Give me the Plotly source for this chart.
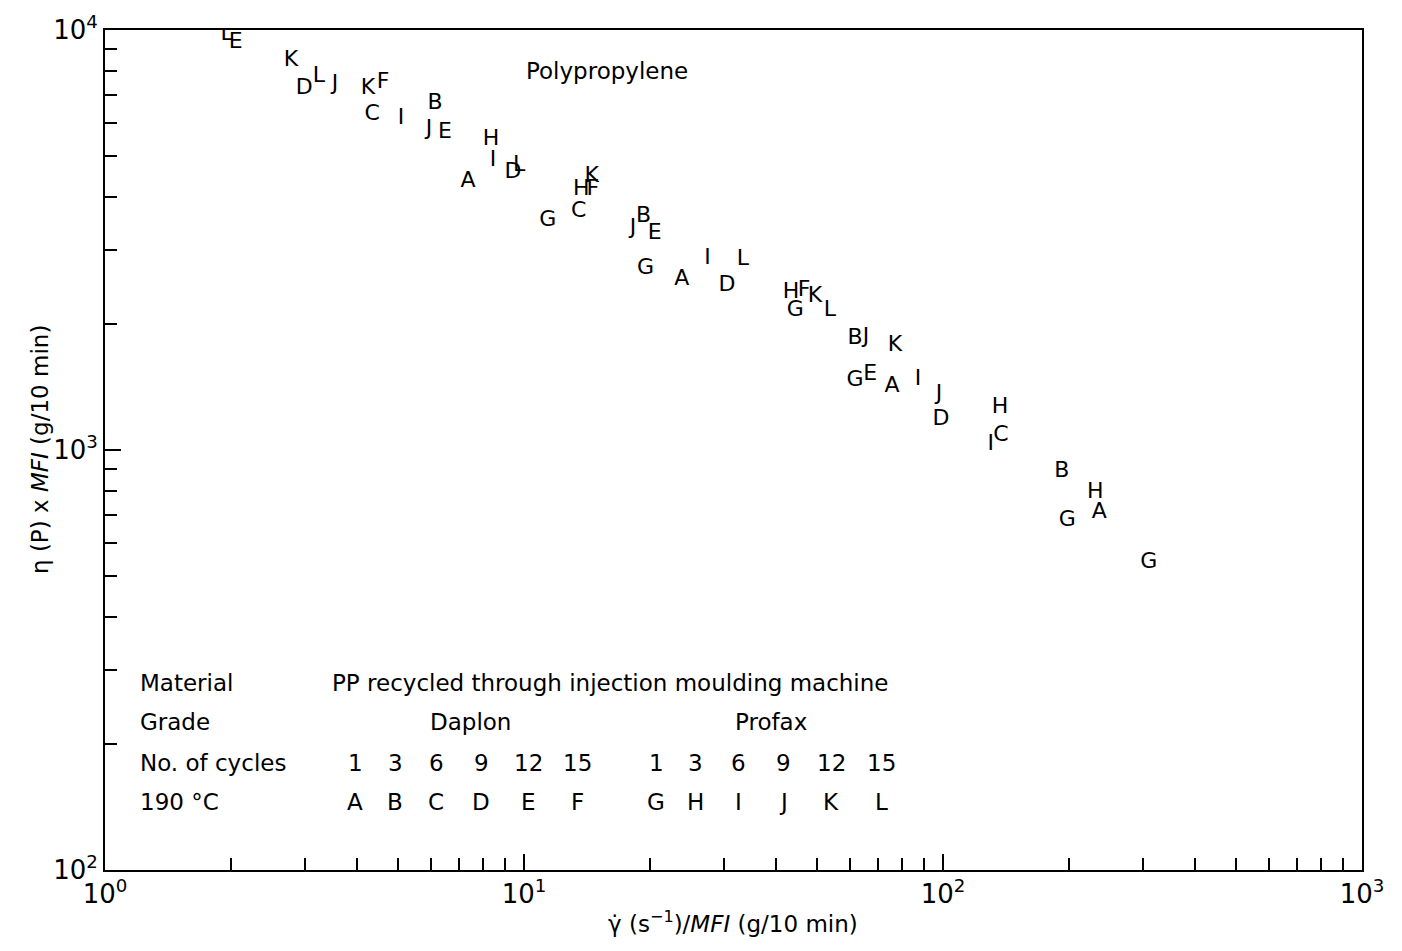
import plotly.graph_objects as go

# ---- data (x = shear rate / MFI, y = viscosity x MFI) ----
a_x = [7.35, 23.8, 75.6, 236]
a_y = [4370, 2550, 1420, 708]
b_x = [6.13, 19.3, 61.7, 192]
b_y = [6700, 3590, 1840, 891]
c_x = [4.34, 13.5, 137.5]
c_y = [6280, 3690, 1080]
d_x = [2.99, 9.41, 30.5, 98.9]
d_y = [7240, 4590, 2470, 1185]
e_x = [2.05, 6.48, 20.5, 67.0]
e_y = [9360, 5690, 3270, 1510]
f_x = [4.61, 14.6, 46.6]
f_y = [7480, 4160, 2400]
g_x = [11.4, 19.5, 44.4, 61.7, 198, 310]
g_y = [3510, 2710, 2150, 1460, 681, 541]
h_x = [8.34, 13.7, 43.4, 136.8, 231]
h_y = [5500, 4160, 2365, 1259, 794]
i_x = [5.09, 8.43, 27.4, 87.2, 130]
i_y = [6140, 4900, 2865, 1468, 1033]
j_x = [3.54, 5.93, 18.2, 65.5, 97.8]
j_y = [7400, 5780, 3360, 1858, 1359]
k_x = [2.78, 4.24, 14.5, 49.5, 76.8]
k_y = [8440, 7240, 4470, 2326, 1778]
l_x = [1.95, 3.24, 9.73, 33.3, 53.7]
l_y = [9780, 7730, 4770, 2834, 2154]

letters = ["A", "B", "C", "D", "E", "F", "G", "H", "I", "J", "K", "L"]
cycles = [1, 3, 6, 9, 12, 15, 1, 3, 6, 9, 12, 15]
grades = ["Daplon", "Profax"]
x_ticks = [1, 10, 100, 1000]
x_tick_text = ["10<sup>0</sup>", "10<sup>1</sup>", "10<sup>2</sup>", "10<sup>3</sup>"]
y_ticks = [100, 1000, 10000]
y_tick_text = ["10<sup>2</sup>", "10<sup>3</sup>", "10<sup>4</sup>"]

series = {
    "A": (a_x, a_y), "B": (b_x, b_y), "C": (c_x, c_y), "D": (d_x, d_y),
    "E": (e_x, e_y), "F": (f_x, f_y), "G": (g_x, g_y), "H": (h_x, h_y),
    "I": (i_x, i_y), "J": (j_x, j_y), "K": (k_x, k_y), "L": (l_x, l_y),
}

FONT = "DejaVu Sans"
fig = go.Figure()
for name in letters:
    xs, ys = series[name]
    fig.add_trace(go.Scatter(
        x=xs, y=ys, mode="text", text=[name] * len(xs),
        textposition="middle center",
        textfont=dict(family=FONT, size=22, color="black"),
        name=name, showlegend=False, hoverinfo="x+y+name",
    ))

# page offset (browser body margin) and figure geometry
OFF = 8
W, H = 1402 - 2 * OFF, 951 - 2 * OFF
PL, PR, PT, PB = 105, 1362, 30, 870          # plot area in window pixels
L, T = PL - OFF, PT - OFF
R = W - (PR - OFF)
B = H - (PB - OFF)
pw, ph = PR - PL, PB - PT


def px(xp):
    return (xp - PL) / pw


def py(yp):
    return (PB - yp) / ph


ann = []
ann.append(dict(x=px(607), y=py(71), text="Polypropylene", xanchor="center"))
rows_y = [683, 722, 763, 802]
row_labels = ["Material", "Grade", "No. of cycles", "190 \u00b0C"]
for lab, yy in zip(row_labels, rows_y):
    ann.append(dict(x=px(138), y=py(yy), text=lab, xanchor="left"))
ann.append(dict(x=px(330), y=py(rows_y[0]),
                text="PP recycled through injection moulding machine", xanchor="left"))
for g, cx in zip(grades, [470, 771]):
    ann.append(dict(x=px(cx), y=py(rows_y[1]), text=g, xanchor="center"))
col_x = [355, 395, 436, 481, 528, 577, 656, 695, 738, 783, 831, 881]
for c, lt, cx in zip(cycles, letters, col_x):
    ann.append(dict(x=px(cx), y=py(rows_y[2]), text=str(c), xanchor="center"))
    ann.append(dict(x=px(cx), y=py(rows_y[3]), text=lt, xanchor="center"))

# axis titles
ann.append(dict(x=px(733), y=py(922),
                text="\u03b3\u0307 (s<sup>\u22121</sup>)/<i>MFI</i> (g/10 min)",
                xanchor="center"))
ann.append(dict(x=px(40), y=py(450), text="\u03b7 (P) x <i>MFI</i> (g/10 min)",
                xanchor="center", textangle=-90))

for a in ann:
    a.update(xref="paper", yref="paper", yanchor="middle", showarrow=False,
             font=dict(family=FONT, size=23, color="black"))

axis_common = dict(
    type="log", showgrid=False, zeroline=False, automargin=False,
    showline=True, linecolor="black", linewidth=2, mirror=True,
    ticks="inside", ticklen=16, tickwidth=2, tickcolor="black",
    tickfont=dict(family=FONT, size=26, color="black"),
)

fig.update_layout(
    width=W, height=H,
    margin=dict(l=L, r=R, t=T, b=B),
    plot_bgcolor="white", paper_bgcolor="white",
    annotations=ann,
    xaxis=dict(
        axis_common, range=[0, 3], tickvals=x_ticks, ticktext=x_tick_text,
        minor=dict(ticks="inside", ticklen=12, tickwidth=2, tickcolor="black",
                   tickvals=[m * d for d in (1, 10, 100) for m in range(2, 10)]),
    ),
    yaxis=dict(
        axis_common, range=[2, 4], tickvals=y_ticks, ticktext=y_tick_text,
        minor=dict(ticks="inside", ticklen=12, tickwidth=2, tickcolor="black",
                   tickvals=[m * d for d in (100, 1000) for m in range(2, 10)]),
    ),
)

fig.write_html("out.html")
